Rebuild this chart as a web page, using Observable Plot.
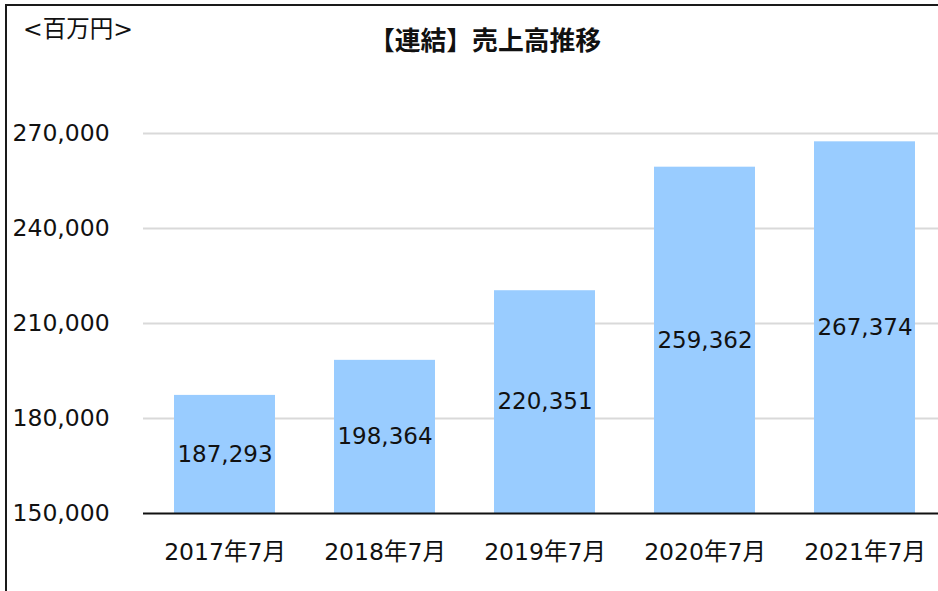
<!DOCTYPE html>
<html>
<head>
<meta charset="utf-8">
<script src="https://cdn.jsdelivr.net/npm/d3@7"></script>
<script src="https://cdn.jsdelivr.net/npm/@observablehq/plot@0.6"></script>
<style>
  html, body { margin: 0; padding: 0; background: #fff; overflow: hidden; }
  #wrap { position: relative; width: 938px; height: 591px; overflow: hidden; font-family: "DejaVu Sans", "Noto Sans CJK JP", sans-serif; }
  #frame { position: absolute; left: 5px; top: 4px; width: 1000px; height: 700px; border-left: 2px solid #1a1a1a; border-top: 2px solid #1a1a1a; }
  #title { position: absolute; left: 0; width: 970px; top: 24px; text-align: center; font-family: "Noto Sans CJK JP", sans-serif; font-weight: bold; font-size: 25.8px; line-height: 30px; color: #111; }
  #unit { position: absolute; left: 23px; top: 15px; font-size: 23.5px; line-height: 28px; color: #111; font-family: "DejaVu Sans", "Noto Sans CJK JP", sans-serif; }
  #chart { position: absolute; left: 0; top: 0; }
</style>
</head>
<body>
<div id="wrap">
  <div id="chart"></div>
  <div id="frame"></div>
  <div id="unit">&lt;百万円&gt;</div>
  <div id="title">【連結】売上高推移</div>
</div>
<script>
const categories = ["2017年7月", "2018年7月", "2019年7月", "2020年7月", "2021年7月"];
const values = [187293, 198364, 220351, 259362, 267374];
const yTicks = [150000, 180000, 210000, 240000, 270000];
const yMin = 150000;
const yMax = 270000;

const data = categories.map((c, i) => ({ period: c, value: values[i] }));
const fmt = d3.format(",");

const chart = Plot.plot({
  width: 938,
  height: 591,
  marginTop: 133,
  marginBottom: 78,
  marginLeft: 143,
  marginRight: 0,
  style: { fontFamily: "\"DejaVu Sans\", \"Noto Sans CJK JP\", sans-serif", fontSize: "23px", color: "#111", background: "transparent" },
  x: { type: "band", domain: categories, range: [113.4, 976], padding: 0.371 },
  y: { domain: [yMin, yMax] },
  marks: [
    Plot.ruleY(yTicks.filter(t => t !== yMin), { stroke: "#d9d9d9", strokeWidth: 2 }),
    Plot.barY(data, { x: "period", y1: yMin, y2: "value", fill: "#99CCFF" }),
    Plot.ruleY([yMin], { stroke: "#111", strokeWidth: 2 }),
    Plot.text(data, { x: "period", y: d => (d.value + yMin) / 2, text: d => fmt(d.value), fontSize: 23, fill: "#111" }),
    Plot.axisY({ ticks: yTicks, tickFormat: fmt, tickSize: 0, tickPadding: 0, textAnchor: "start", dx: -131, fontSize: 23.5, label: null }),
    Plot.axisX({ tickSize: 0, tickPadding: 30, fontSize: 23.5, label: null })
  ]
});
document.getElementById("chart").appendChild(chart);
</script>
</body>
</html>
